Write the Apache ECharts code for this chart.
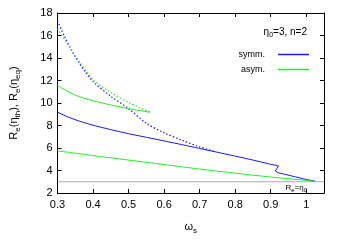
<!DOCTYPE html>
<html><head><meta charset="utf-8">
<script src="https://cdn.jsdelivr.net/npm/echarts@6/dist/echarts.min.js"></script>
<style>html,body{margin:0;padding:0;background:#fff}#c{width:346px;height:242px}</style>
</head><body><div id="c"></div>
<script>
const xTicks = [0.3, 0.4, 0.5, 0.6, 0.7, 0.8, 0.9, 1.0];
const yTicks = [2, 4, 6, 8, 10, 12, 14, 16, 18];
const symmSolid = [[0.3,9.18],[0.33,8.75],[0.36,8.4],[0.4,8.02],[0.45,7.63],[0.5,7.27],[0.55,6.95],[0.6,6.63],[0.65,6.3],[0.7,5.96],[0.75,5.62],[0.8,5.28],[0.85,4.93],[0.9,4.55],[0.915,4.46],[0.922,4.41],[0.924,4.36],[0.922,4.27],[0.917,4.16],[0.913,4.06],[0.913,3.95],[0.916,3.86],[0.921,3.8],[0.94,3.66],[0.97,3.43],[1.0,3.2],[1.025,3.05]];
const symmDotted = [[0.3,17.3],[0.32,15.9],[0.35,14.1],[0.38,12.7],[0.4,11.9],[0.45,10.6],[0.5,9.5],[0.55,8.2],[0.6,7.35],[0.65,6.7],[0.7,6.1],[0.745,5.66]];
const asymUpper = [[0.3,11.55],[0.35,10.7],[0.4,10.2],[0.45,9.83],[0.5,9.5],[0.56,9.18]];
const asymDotted = [[0.3,16.6],[0.33,15.15],[0.36,13.75],[0.4,12.1],[0.45,10.95],[0.5,10.05],[0.53,9.6],[0.56,9.2]];
const asymLower = [[0.3,5.75],[0.4,5.33],[0.5,4.93],[0.6,4.53],[0.7,4.13],[0.8,3.76],[0.9,3.42],[1.0,3.12],[1.025,3.03]];
const refLine = [[0.3,3],[1.05,3]];

const BLUE = '#1a1aff', GREEN = '#22ee22';
const F = 'Liberation Sans, Arial, sans-serif';
const chart = echarts.init(document.getElementById('c'), null, {renderer:'canvas'});
const axisCommon = {
  axisLine:{lineStyle:{color:'#000',width:1}},
  axisTick:{inside:true,length:4,lineStyle:{color:'#000'}},
  splitLine:{show:false}
};
const subRich = {
  n:{fontSize:11,fontFamily:F,color:'#000',lineHeight:16,verticalAlign:'middle'},
  s:{fontSize:8,fontFamily:F,color:'#000',lineHeight:8,verticalAlign:'bottom'}
};
chart.setOption({
  animation:false,
  grid:{left:49,top:13,width:275,height:180},
  xAxis:[
    Object.assign({type:'value',min:0.3,max:1.05,interval:0.1,position:'bottom',
      axisLabel:{fontSize:11,fontFamily:F,color:'#000',margin:6,showMaxLabel:false,
        formatter:v=>{const t=xTicks.find(a=>Math.abs(a-v)<1e-6);return t===undefined?'':(t===1?'1':t.toFixed(1));}},
      name:'{n|ω}{s|s}',nameLocation:'middle',nameGap:26,nameTextStyle:{rich:subRich}},axisCommon),
    Object.assign({type:'value',min:0.3,max:1.05,interval:0.1,position:'top',axisLabel:{show:false}},axisCommon)
  ],
  yAxis:[
    Object.assign({type:'value',min:2,max:18,interval:2,position:'left',
      axisLabel:{fontSize:11,fontFamily:F,color:'#000',margin:5,formatter:v=>yTicks.includes(v)?String(v):''},
      name:'{n|R}{s|e}{n|(η}{s|th}{n|), R}{s|e}{n|(η}{s|eq}{n|)}',nameLocation:'middle',nameRotate:90,nameGap:36,
      nameTextStyle:{rich:subRich}},axisCommon),
    Object.assign({type:'value',min:2,max:18,interval:2,position:'right',axisLabel:{show:false}},axisCommon)
  ],
  legend:{data:['symm.','asym.'],orient:'vertical',align:'right',right:32,top:45,itemWidth:31,itemHeight:1.5,itemGap:6,
    icon:'rect',textStyle:{fontSize:9,fontFamily:F,color:'#000',padding:[0,8,0,0]}},
  graphic:[
    {type:'text',right:39,top:27,style:{text:'{n|η}{s|0}{n|=3, n=2}',rich:{
      n:{fontSize:10,fontFamily:F,fill:'#000',lineHeight:14,verticalAlign:'middle'},
      s:{fontSize:7,fontFamily:F,fill:'#000',lineHeight:7,verticalAlign:'bottom'}}}},
    {type:'text',right:39,top:184,style:{text:'{n|R}{s|e}{n|=η}{s|0}',rich:{
      n:{fontSize:8,fontFamily:F,fill:'#000',lineHeight:11,verticalAlign:'middle'},
      s:{fontSize:6,fontFamily:F,fill:'#000',lineHeight:6,verticalAlign:'bottom'}}}}
  ],
  series:[
    {name:'symm.',type:'line',data:symmSolid,showSymbol:false,symbol:'none',smooth:false,lineStyle:{color:BLUE,width:1},itemStyle:{color:BLUE}},
    {name:'asym.',type:'line',data:asymLower,showSymbol:false,symbol:'none',smooth:0.2,lineStyle:{color:GREEN,width:1},itemStyle:{color:GREEN}},
    {name:'symm.',type:'line',data:symmDotted,showSymbol:false,symbol:'none',smooth:0.3,lineStyle:{color:BLUE,width:1.2,type:[1.5,2]},itemStyle:{color:BLUE}},
    {name:'asym.',type:'line',data:asymUpper,showSymbol:false,symbol:'none',smooth:0.3,lineStyle:{color:GREEN,width:1},itemStyle:{color:GREEN}},
    {name:'asym.',type:'line',data:asymDotted,showSymbol:false,symbol:'none',smooth:0.3,lineStyle:{color:GREEN,width:1.2,type:[1.5,2]},itemStyle:{color:GREEN}},
    {name:'ref',type:'line',data:refLine,showSymbol:false,symbol:'none',lineStyle:{color:'#aaaaaa',width:1},z:1}
  ]
});
</script></body></html>
